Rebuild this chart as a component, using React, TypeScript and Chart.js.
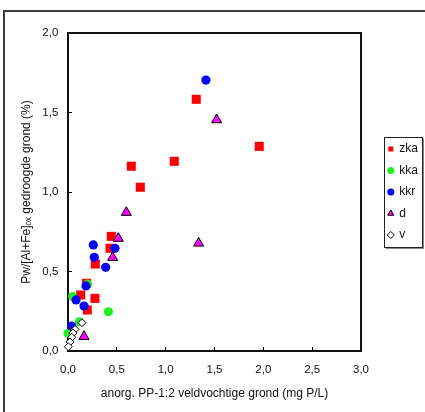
import { useEffect, useRef } from 'react';
import { Chart, registerables } from 'chart.js';

Chart.register(...registerables);

const seriesNames = ['zka', 'kka', 'kkr', 'd', 'v'];

const zkaX = [1.313, 1.958, 1.088, 0.648, 0.74, 0.443, 0.43, 0.28, 0.19, 0.13, 0.276, 0.198];
const zkaY = [1.583, 1.287, 1.193, 1.162, 1.03, 0.721, 0.646, 0.547, 0.426, 0.352, 0.331, 0.258];

const kkaX = [0.048, 0.413, 0.2, 0.116, 0.0];
const kkaY = [0.342, 0.247, 0.42, 0.184, 0.111];

const kkrX = [1.412, 0.259, 0.269, 0.481, 0.386, 0.184, 0.082, 0.164, 0.038];
const kkrY = [1.704, 0.667, 0.589, 0.646, 0.526, 0.409, 0.321, 0.283, 0.157];

const dX = [1.522, 0.597, 0.515, 0.457, 1.337, 0.164];
const dY = [1.454, 0.871, 0.708, 0.588, 0.678, 0.091];

const vX = [0.143, 0.072, 0.051, 0.038, 0.02, 0.003];
const vY = [0.178, 0.136, 0.113, 0.086, 0.057, 0.027];

const xTickLabels = ['0,0', '0,5', '1,0', '1,5', '2,0', '2,5', '3,0'];
const yTickLabels = ['0,0', '0,5', '1,0', '1,5', '2,0'];

const xTitle = 'anorg. PP-1:2 veldvochtige grond (mg P/L)';
const yTitle = 'Pw/[Al+Fe]\u2092\u2093 gedroogde grond (%)';

const toPoints = (xs: number[], ys: number[]) => xs.map((x, i) => ({ x, y: ys[i] }));

const framePlugin = {
  id: 'frame',
  beforeDatasetsDraw(chart: any) {
    const { ctx, chartArea: a } = chart;
    ctx.save();
    ctx.strokeStyle = '#111';
    ctx.lineWidth = 2;
    ctx.strokeRect(a.left, a.top, a.right - a.left, a.bottom - a.top);
    ctx.restore();
  },
};

const legendBoxPlugin = {
  id: 'legendBox',
  afterDraw(chart: any) {
    const lg = chart.legend;
    const hb = lg && lg.legendHitBoxes;
    if (!hb || !hb.length) return;
    const { ctx } = chart;
    const itemRight = Math.max(...hb.map((h: any) => h.left + h.width));
    const left = Math.round(hb[0].left - 4) + 0.5;
    const top = Math.round(hb[0].top - 6) + 0.5;
    const last = hb[hb.length - 1];
    const bottom = Math.round(last.top + last.height + 5.5) + 0.5;
    const right = Math.min(Math.round(itemRight + 4), chart.width - 3) + 0.5;
    ctx.save();
    ctx.strokeStyle = '#222';
    ctx.lineWidth = 1;
    ctx.strokeRect(left, top, right - left, bottom - top);
    ctx.strokeStyle = '#888';
    ctx.beginPath();
    ctx.moveTo(right + 1, top + 1);
    ctx.lineTo(right + 1, bottom + 1);
    ctx.lineTo(left + 1, bottom + 1);
    ctx.stroke();
    ctx.restore();
  },
};

export default function App() {
  const ref = useRef<HTMLCanvasElement>(null);

  useEffect(() => {
    if (!ref.current) return;
    Chart.defaults.font.family = "'Liberation Sans', Arial, sans-serif";
    Chart.defaults.font.size = 11;
    Chart.defaults.color = '#111';

    const chart = new Chart(ref.current, {
      type: 'scatter',
      data: {
        datasets: [
          {
            label: seriesNames[0],
            data: toPoints(zkaX, zkaY),
            pointStyle: 'rect',
            pointRadius: 6.4,
            backgroundColor: '#FF0000',
            borderColor: '#FF0000',
            borderWidth: 0,
            order: 5,
            clip: false,
          },
          {
            label: seriesNames[1],
            data: toPoints(kkaX, kkaY),
            pointStyle: 'circle',
            pointRadius: 4.6,
            backgroundColor: '#22EE22',
            borderColor: '#22EE22',
            borderWidth: 0,
            order: 4,
            clip: false,
          },
          {
            label: seriesNames[2],
            data: toPoints(kkrX, kkrY),
            pointStyle: 'circle',
            pointRadius: 4.6,
            backgroundColor: '#0000FF',
            borderColor: '#0000FF',
            borderWidth: 0,
            order: 3,
            clip: false,
          },
          {
            label: seriesNames[3],
            data: toPoints(dX, dY),
            pointStyle: 'triangle',
            pointRadius: 5.8,
            backgroundColor: '#FF00FF',
            borderColor: '#000000',
            borderWidth: 1,
            order: 2,
            clip: false,
          },
          {
            label: seriesNames[4],
            data: toPoints(vX, vY),
            pointStyle: 'rectRot',
            pointRadius: 4,
            backgroundColor: '#FFFFFF',
            borderColor: '#000000',
            borderWidth: 1,
            order: 1,
            clip: false,
          },
        ] as any,
      },
      options: {
        animation: false,
        responsive: false,
        maintainAspectRatio: false,
        layout: { padding: { top: 33, right: -3, bottom: 0, left: 0 } },
        scales: {
          x: {
            type: 'linear',
            min: 0,
            max: 3,
            ticks: {
              stepSize: 0.5,
              padding: 16.4,
              color: '#111',
              font: { size: 11.5 },
              callback: (_v: any, i: number) => xTickLabels[i],
            },
            grid: {
              drawOnChartArea: false,
              drawTicks: true,
              tickLength: -4,
              color: '#000',
              lineWidth: 1,
            },
            border: { display: false },
            title: {
              display: true,
              text: xTitle,
              color: '#111',
              font: { size: 12 },
              padding: { top: 0, bottom: 11.5 },
            },
            afterFit: (s: any) => {
              s.height = 61;
            },
          },
          y: {
            type: 'linear',
            min: 0,
            max: 2,
            ticks: {
              stepSize: 0.5,
              padding: 13.7,
              color: '#111',
              font: { size: 11.5 },
              callback: (_v: any, i: number) => yTickLabels[i],
            },
            grid: {
              drawOnChartArea: false,
              drawTicks: true,
              tickLength: -4,
              color: '#000',
              lineWidth: 1,
            },
            border: { display: false },
            title: {
              display: true,
              text: yTitle,
              color: '#111',
              font: { size: 12 },
              padding: { top: 19.5, bottom: 0 },
            },
            afterFit: (s: any) => {
              s.width = 68;
            },
          },
          yRight: {
            type: 'linear',
            position: 'right',
            display: true,
            ticks: { display: false },
            grid: { display: false },
            border: { display: false },
            afterFit: (s: any) => {
              s.width = 17.8;
            },
          },
        } as any,
        plugins: {
          legend: {
            position: 'right',
            fullSize: false,
            labels: {
              usePointStyle: true,
              boxWidth: 5,
              boxHeight: 5,
              padding: 9.5,
              color: '#111',
              font: { size: 12 },
              sort: (a: any, b: any) => a.datasetIndex - b.datasetIndex,
            },
          },
          tooltip: { enabled: false },
        },
      },
      plugins: [framePlugin, legendBoxPlugin],
    });
    return () => chart.destroy();
  }, []);

  return (
    <div
      style={{
        position: 'fixed',
        left: 0,
        top: 0,
        width: 425,
        height: 412,
        overflow: 'hidden',
        background: '#fff',
      }}
    >
      <div
        style={{
          position: 'absolute',
          left: 3,
          top: 10,
          width: 460,
          height: 440,
          borderLeft: '2px solid #3c3c3c',
          borderTop: '2px solid #3c3c3c',
        }}
      />
      <canvas
        ref={ref}
        width={425}
        height={412}
        style={{ position: 'absolute', left: 0, top: 0 }}
      />
    </div>
  );
}
